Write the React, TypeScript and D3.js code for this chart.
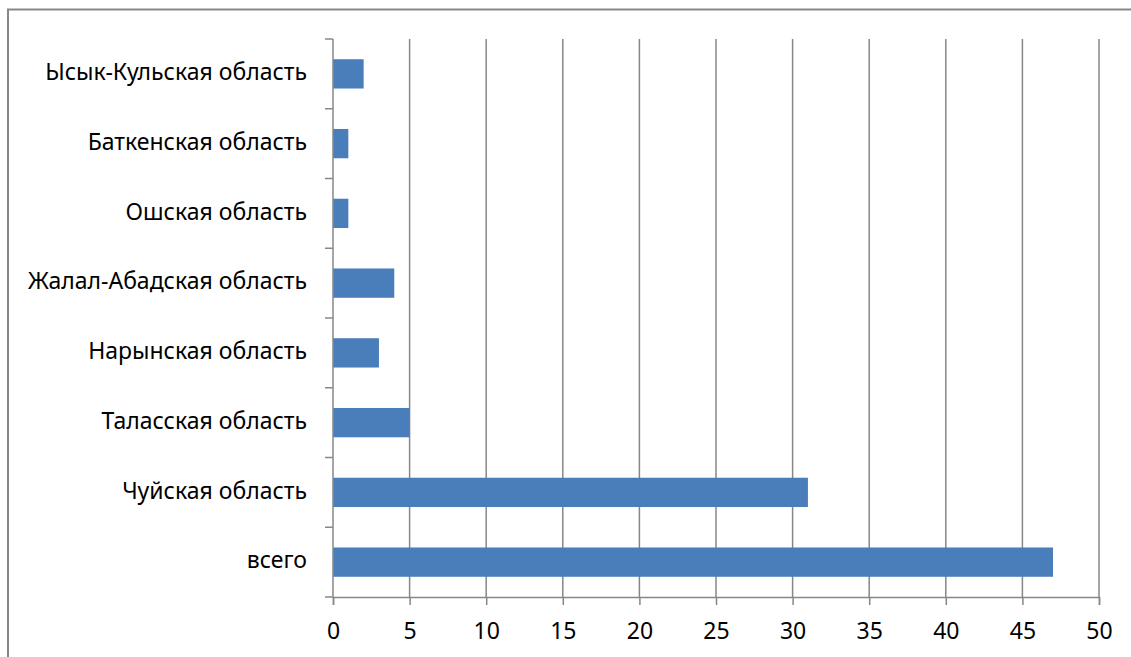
import { useEffect, useRef } from "react"
import * as d3 from "d3"

// categories listed bottom to top as in the picture
const regions = [
  "всего",
  "Чуйская область",
  "Таласская область",
  "Нарынская область",
  "Жалал-Абадская область",
  "Ошская область",
  "Баткенская область",
  "Ысык-Кульская область",
]
const counts = [47, 31, 5, 3, 4, 1, 1, 2]
const xTicks = [0, 5, 10, 15, 20, 25, 30, 35, 40, 45, 50]

export default function App() {
  const svgRef = useRef<SVGSVGElement>(null)

  useEffect(() => {
    if (!svgRef.current) return
    const svg = d3.select(svgRef.current)
    svg.selectAll("*").remove()

    const width = 1131
    const height = 657
    const margin = { top: 39, right: 32, bottom: 60, left: 333 }
    const innerWidth = width - margin.left - margin.right
    const innerHeight = height - margin.top - margin.bottom
    const font = "Noto Sans, sans-serif"
    const gray = "#878787"

    const data = regions.map((r, i) => ({ region: r, value: counts[i] }))

    // frame around the chart
    svg.append("rect")
      .attr("x", 8)
      .attr("y", 9.5)
      .attr("width", width + 20)
      .attr("height", height + 20)
      .attr("fill", "white")
      .attr("stroke", gray)
      .attr("stroke-width", 2)

    const x = d3.scaleLinear().domain([0, 50]).range([0, innerWidth])
    const y = d3
      .scaleBand()
      .domain(regions.slice().reverse())
      .range([0, innerHeight])
      .paddingInner(0.58)
      .paddingOuter(0.29)

    const g = svg.append("g").attr("transform", `translate(${margin.left},${margin.top})`)

    // vertical grid lines
    g.append("g")
      .selectAll("line")
      .data(xTicks.slice(1))
      .join("line")
      .attr("x1", (d) => x(d))
      .attr("x2", (d) => x(d))
      .attr("y1", 0)
      .attr("y2", innerHeight)
      .attr("stroke", gray)
      .attr("stroke-width", 1.5)

    // bars
    g.selectAll(".bar")
      .data(data)
      .join("rect")
      .attr("class", "bar")
      .attr("x", 0)
      .attr("y", (d) => y(d.region)!)
      .attr("width", (d) => x(d.value))
      .attr("height", y.bandwidth())
      .attr("fill", "#4a7ebb")

    // x axis
    const xAxis = g.append("g")
      .attr("transform", `translate(0,${innerHeight})`)
      .call(d3.axisBottom(x).tickValues(xTicks).tickSize(8).tickPadding(18).tickFormat(d3.format("d")))
    xAxis.select(".domain").attr("stroke", gray).attr("stroke-width", 1.5)
    xAxis.selectAll("line").attr("stroke", gray).attr("stroke-width", 1.5)
    xAxis.selectAll("text")
      .attr("fill", "#000")
      .attr("font-family", font)
      .attr("font-size", "23px")

    // y axis: ticks sit on band boundaries
    const bounds = d3.range(regions.length + 1).map((i) => (innerHeight / regions.length) * i)
    const yAxisG = g.append("g")
    yAxisG.append("line")
      .attr("x1", 0).attr("x2", 0)
      .attr("y1", 0).attr("y2", innerHeight)
      .attr("stroke", gray).attr("stroke-width", 1.5)
    yAxisG.selectAll(".ytick")
      .data(bounds)
      .join("line")
      .attr("class", "ytick")
      .attr("x1", -8).attr("x2", 0)
      .attr("y1", (d) => d).attr("y2", (d) => d)
      .attr("stroke", gray).attr("stroke-width", 1.5)
    yAxisG.selectAll(".ylabel")
      .data(regions)
      .join("text")
      .attr("class", "ylabel")
      .attr("x", -26)
      .attr("y", (d) => y(d)! + y.bandwidth() / 2)
      .attr("text-anchor", "end")
      .attr("dominant-baseline", "middle")
      .attr("font-family", font)
      .attr("font-size", "23px")
      .attr("fill", "#000")
      .text((d) => d)
  }, [])

  return (
    <svg
      ref={svgRef}
      width={1131}
      height={657}
      style={{ position: "absolute", left: 0, top: 0, background: "white" }}
    ></svg>
  )
}
